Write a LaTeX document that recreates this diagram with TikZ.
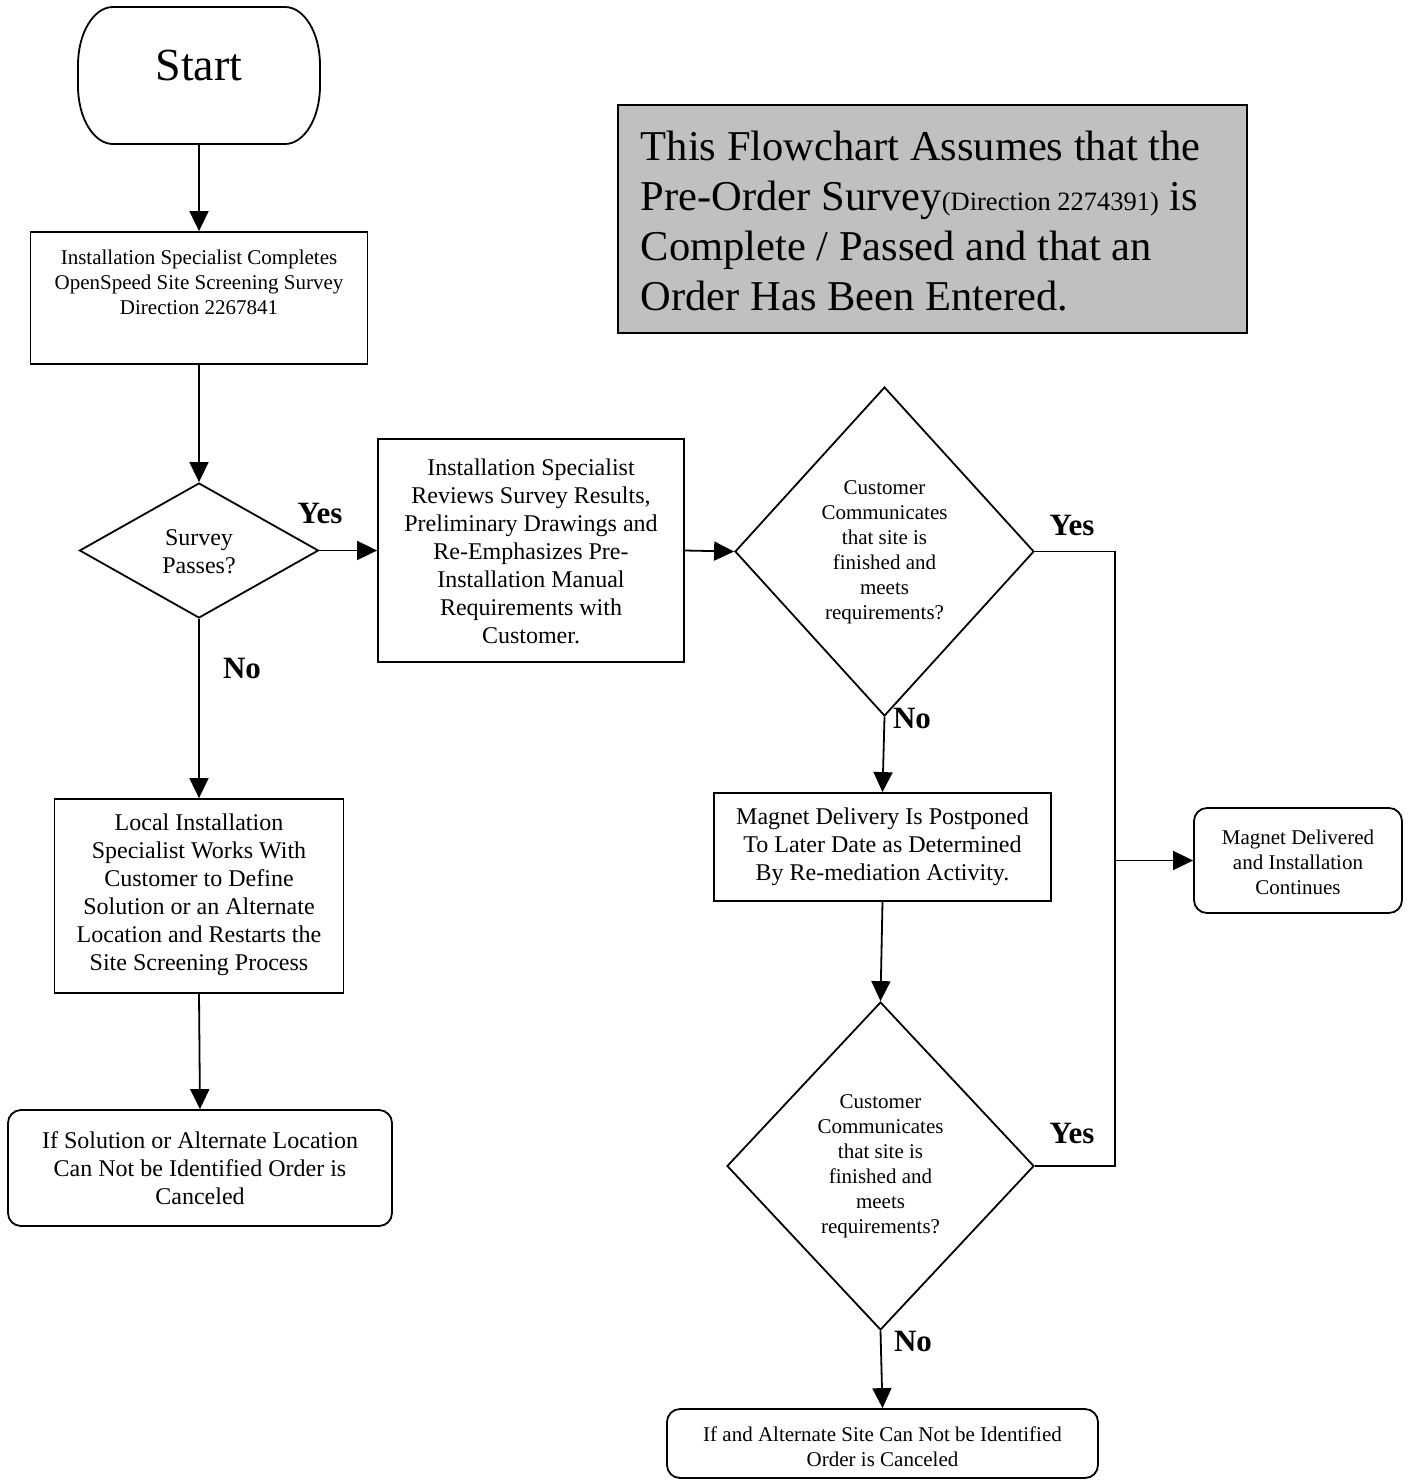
\documentclass[tikz,border=0pt]{standalone}
\usepackage{fontspec}
\setmainfont{Liberation Serif}
\usetikzlibrary{shapes.geometric,arrows.meta}
\definecolor{notegray}{HTML}{C0C0C0}
\begin{document}
\begin{tikzpicture}[x=1pt,y=-1pt,
  line width=1.8pt,
  mybox/.style={draw, rectangle, inner sep=0pt},
  myround/.style={draw, rectangle, rounded corners=13pt, inner sep=0pt},
  mydiam/.style={draw, diamond, inner sep=0pt},
  txts/.style={align=center, inner sep=0pt, font=\fontsize{21}{25}\selectfont},
  txtl/.style={align=center, inner sep=0pt, font=\fontsize{24}{28}\selectfont},
  yn/.style={font=\fontsize{31}{31}\selectfont\bfseries, inner sep=0pt},
  myarrow/.style={-{Triangle[length=20pt,width=19pt]}},
]
\useasboundingbox (0,0) rectangle (1409,1481);

% Start terminal
\node[minimum width=241pt, minimum height=137pt, inner sep=0pt] (start) at (199,75.5) {};
\draw (113,7) -- (285,7) .. controls (304.3,7) and (320,33) .. (320,65) -- (320,86)
  .. controls (320,118) and (304.3,144) .. (285,144) -- (113,144)
  .. controls (93.7,144) and (78,118) .. (78,86) -- (78,65)
  .. controls (78,33) and (93.7,7) .. (113,7) -- cycle;
\node[font=\fontsize{46}{46}\selectfont, anchor=base, inner sep=0pt] (starttxt) at (199,80) {Start};

% Box 1
\node[mybox, minimum width=337pt, minimum height=132pt] (b1) at (199,298) {};
\node[txts] (b1t) at (199,282) {Installation Specialist Completes\\OpenSpeed Site Screening Survey\\Direction 2267841};

% Decision 1
\node[mydiam, minimum width=239pt, minimum height=135pt] (d1) at (199,550.5) {};
\node[txtl] (d1t) at (199,552) {Survey\\Passes?};
\node[yn] (yes1) at (320,513) {Yes};
\node[yn] (no1) at (242,668) {No};

% Box 2
\node[mybox, minimum width=306pt, minimum height=223pt] (b2) at (531,550.5) {};
\node[txtl] (b2t) at (531,551) {Installation Specialist\\Reviews Survey Results,\\Preliminary Drawings and\\Re-Emphasizes Pre-\\Installation Manual\\Requirements with\\Customer.};

% Box 3
\node[mybox, minimum width=289pt, minimum height=194pt] (b3) at (199,896) {};
\node[txtl] (b3t) at (199,895) {Local Installation\\Specialist Works With\\Customer to Define\\Solution or an Alternate\\Location and Restarts the\\Site Screening Process};

% Box 4
\node[myround, minimum width=384pt, minimum height=116pt] (b4) at (200,1168) {};
\node[txtl] (b4t) at (200,1168) {If Solution or Alternate Location\\Can Not be Identified Order is\\Canceled};

% Note
\node[draw, fill=notegray, minimum width=629pt, minimum height=228pt, inner sep=0pt] (note) at (932.5,219) {};
\node[anchor=west, align=left, inner sep=0pt, font=\fontsize{42.5}{50}\selectfont] (notet) at (640,221)
  {This Flowchart Assumes that the\\Pre-Order Survey{\fontsize{26.5}{30}\selectfont(Direction 2274391)} is\\Complete / Passed and that an\\Order Has Been Entered.};

% Decision 2
\node[mydiam, minimum width=299pt, minimum height=329pt] (d2) at (884.5,551.5) {};
\node[txts] (d2t) at (884.5,552) {Customer\\Communicates\\that site is\\finished and\\meets\\requirements?};
\node[yn] (yes2) at (1072,525) {Yes};
\node[yn] (no2) at (912,718) {No};

% Box 5
\node[mybox, minimum width=337pt, minimum height=108pt] (b5) at (882.5,847) {};
\node[txtl] (b5t) at (882.5,847) {Magnet Delivery Is Postponed\\To Later Date as Determined\\By Re-mediation Activity.};

% Decision 3
\node[mydiam, minimum width=307pt, minimum height=328pt] (d3) at (880.5,1166) {};
\node[txts] (d3t) at (880.5,1166) {Customer\\Communicates\\that site is\\finished and\\meets\\requirements?};
\node[yn] (yes3) at (1072,1133) {Yes};
\node[yn] (no3) at (913,1341) {No};

% Final box
\node[myround, minimum width=431pt, minimum height=69pt] (fin) at (882.5,1443.5) {};
\node[txts] (fint) at (882.5,1447) {If and Alternate Site Can Not be Identified\\Order is Canceled};

% Magnet delivered
\node[myround, minimum width=208pt, minimum height=105pt] (mag) at (1298,860.5) {};
\node[txts] (magt) at (1298,862) {Magnet Delivered\\and Installation\\Continues};

% Connectors
\draw[myarrow] (start.south) -- (b1.north);
\draw[myarrow] (b1.south) -- (d1.north);
\draw[myarrow] (d1.east) -- (b2.west);
\draw[myarrow] (d1.south) -- (b3.north);
\draw[myarrow] (b3.south) -- (b4.north);
\draw[myarrow] (b2.east) -- (d2.west);
\draw[myarrow] (d2.south) -- (b5.north);
\draw[myarrow] (b5.south) -- (d3.north);
\draw[myarrow] (d3.south) -- (fin.north);

\coordinate (ytop) at (1115,551.5);
\coordinate (ybot) at (1115,1166);
\coordinate (yj) at (1115,860.5);
\draw (d2.east) -- (ytop) -- (ybot) -- (d3.east);
\draw[myarrow] (yj) -- (mag.west);
\end{tikzpicture}
\end{document}
